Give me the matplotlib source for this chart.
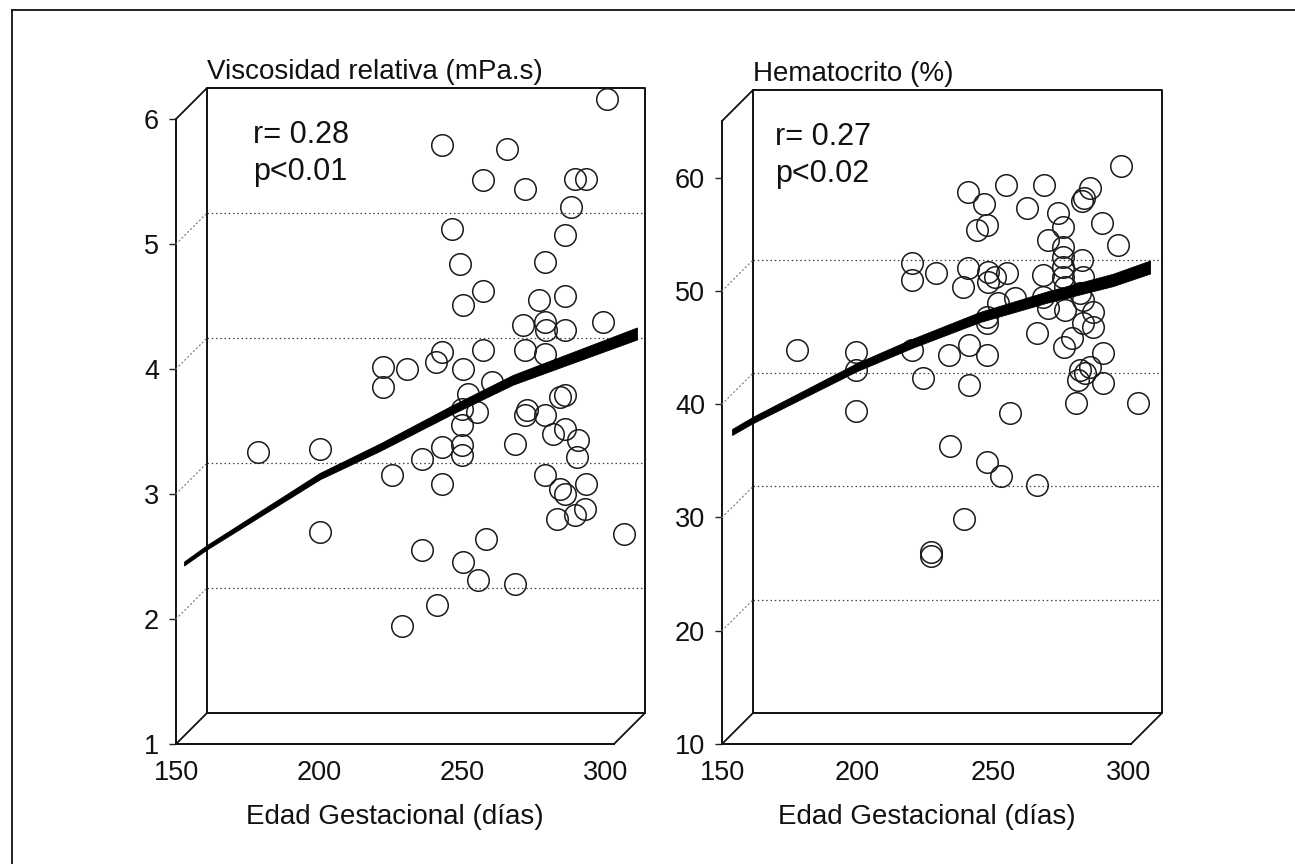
import matplotlib
matplotlib.use("Agg")
import matplotlib.pyplot as plt
import matplotlib.transforms as mtransforms
from matplotlib.lines import Line2D
import numpy as np

plt.rcParams['font.family'] = ['Liberation Sans', 'DejaVu Sans']

# ---------------- data ----------------
visc_x = [173.2, 194.9, 194.9, 216.9, 216.9, 225.3, 220.0, 230.5, 237.5, 230.5,
          235.7, 223.5, 237.5, 260.2, 295.1, 251.8, 266.5, 283.9, 287.8, 282.6,
          241.0, 280.5, 243.8, 273.5, 251.8, 244.8, 271.4, 280.5, 293.7, 265.8,
          273.5, 273.8, 280.5, 266.5, 273.5, 237.5, 235.4, 251.8, 244.8, 255.0,
          246.6, 244.5, 249.7, 244.5, 237.5, 244.5, 244.5, 263.0, 267.2, 266.5,
          273.5, 278.7, 280.5, 276.3, 280.5, 285.0, 284.6, 273.5, 278.7, 280.5,
          277.7, 283.9, 287.4, 287.8, 301.1, 252.9, 244.8, 250.1, 263.0]
visc_y = [3.21, 3.24, 2.57, 3.89, 3.73, 3.88, 3.03, 3.16, 2.96, 2.43,
          1.99, 1.82, 5.67, 5.64, 6.04, 5.39, 5.32, 5.40, 5.40, 5.17,
          5.00, 4.95, 4.72, 4.73, 4.50, 4.39, 4.43, 4.46, 4.25, 4.23,
          4.25, 4.19, 4.19, 4.03, 4.00, 4.01, 3.93, 4.03, 3.88, 3.77,
          3.68, 3.56, 3.53, 3.43, 3.25, 3.27, 3.19, 3.28, 3.55, 3.51,
          3.51, 3.65, 3.67, 3.36, 3.40, 3.31, 3.17, 3.03, 2.92, 2.88,
          2.68, 2.71, 2.76, 2.96, 2.56, 2.52, 2.33, 2.19, 2.16]
visc_fit_x = [147.4, 155.4, 194.9, 215.8, 241.0, 262.3, 285.7, 305.6]
visc_fit_y = [2.32, 2.45, 3.02, 3.25, 3.55, 3.79, 3.99, 4.16]

hto_x = [172.0, 193.7, 193.7, 193.7, 214.4, 214.4, 223.3, 214.4, 218.5, 228.1,
         235.5, 235.5, 235.1, 241.0, 238.4, 242.1, 235.1, 233.2, 242.5, 242.5,
         245.1, 249.5, 242.1, 228.4, 242.1, 247.3, 260.6, 233.6, 221.4, 221.4,
         249.1, 263.1, 280.1, 277.9, 277.2, 256.9, 268.3, 270.2, 284.6, 264.6,
         270.2, 290.5, 291.6, 262.8, 270.2, 270.2, 270.2, 277.2, 277.5, 262.8,
         270.9, 276.4, 252.4, 246.2, 242.1, 242.1, 264.6, 270.9, 277.5, 281.2,
         277.5, 281.2, 260.6, 270.5, 273.5, 284.9, 276.4, 280.1, 278.3, 275.7,
         284.9, 275.0, 297.8, 250.6]
hto_y = [43.42, 43.24, 41.65, 38.03, 51.10, 49.60, 50.21, 43.42, 40.94, 42.97,
         43.86, 40.33, 57.36, 56.31, 54.01, 54.45, 50.65, 48.98, 50.30, 49.42,
         49.86, 50.21, 42.97, 34.94, 33.53, 32.29, 31.50, 28.50, 25.58, 25.23,
         57.98, 57.98, 57.72, 56.84, 56.57, 55.95, 55.51, 54.27, 54.63, 53.13,
         52.51, 52.69, 59.66, 50.04, 51.63, 50.74, 49.86, 51.36, 49.86, 48.09,
         48.98, 48.45, 48.01, 47.57, 46.33, 45.80, 47.12, 46.95, 47.83, 46.77,
         45.80, 45.45, 44.92, 43.68, 44.48, 43.15, 41.65, 41.91, 41.39, 40.77,
         40.50, 38.74, 38.74, 37.85]
hto_fit_x = [148.0, 155.7, 194.1, 214.8, 239.5, 264.3, 288.6, 302.3]
hto_fit_y = [36.18, 37.24, 41.91, 44.03, 46.33, 48.09, 49.60, 50.74]

x_ticks = [150, 200, 250, 300]
visc_yticks = [1, 2, 3, 4, 5, 6]
hto_yticks = [10, 20, 30, 40, 50, 60]

visc_title = "Viscosidad relativa (mPa.s)"
hto_title = "Hematocrito (%)"
x_label = "Edad Gestacional (días)"
visc_stats = ["r= 0.28", "p<0.01"]
hto_stats = ["r= 0.27", "p<0.02"]

# ---------------- figure ----------------
DPI = 100
W, H = 1295, 864
fig = plt.figure(figsize=(W / DPI, H / DPI), dpi=DPI)
fig.patch.set_facecolor('white')

D = 15.5  # half of the box depth in pixels


def shift(ax, dx, dy):
    return ax.transData + mtransforms.ScaledTranslation(dx / DPI, dy / DPI, fig.dpi_scale_trans)


def connect(ax, p, t1, t2, **kw):
    ax.annotate('', xy=p, xycoords=t2, xytext=p, textcoords=t1,
                arrowprops=dict(arrowstyle='-', shrinkA=0, shrinkB=0, **kw),
                annotation_clip=False)


def panel(rect_px, xlim, ylim, yticks, xs, ys, fx, fy, title, stats, stat_dx, hw0, hw1):
    x0, x1, ytop, ybot = rect_px
    ax = fig.add_axes([x0 / W, 1 - ybot / H, (x1 - x0) / W, (ybot - ytop) / H])
    ax.set_xlim(*xlim)
    ax.set_ylim(*ylim)
    ax.axis('off')
    xa, xb = xlim
    ya, yb = ylim
    back = shift(ax, D, D)
    front = shift(ax, -D, -D)
    kw = dict(color='#111111', lw=1.4, clip_on=False, solid_capstyle='projecting')

    # back wall grid (dotted)
    for v in yticks[1:-1]:
        ax.plot([xa, xb], [v, v], transform=back, ls=(0, (1.2, 2.2)),
                color='#444444', lw=0.9, clip_on=False)
        connect(ax, (xa, v), front, back, ls=(0, (1.2, 2.5)), lw=0.8, color='#777777')

    # box
    ax.plot([xa, xb, xb, xa, xa], [ya, ya, yb, yb, ya], transform=back, **kw)
    ax.plot([xa, xa, xb], [yb, ya, ya], transform=front, **kw)
    for p in [(xa, ya), (xa, yb), (xb, ya)]:
        connect(ax, p, front, back, lw=1.3, color='#111111')

    # front y ticks and labels
    for v in yticks:
        ax.plot([xa], [v], marker=0, ms=5, mew=1.0, color='#222222',
                transform=front, clip_on=False)
        ax.text(xa, v, f"{v}", transform=shift(ax, -D - 17, -D - 3),
                ha='right', va='center', fontsize=19.5, color='#111111')
    for v in x_ticks:
        ax.text(v, ya, f"{v}", transform=shift(ax, -D, -D - 29),
                ha='center', va='center', fontsize=19.5, color='#111111')
    ax.text((xa + xb) / 2, ya, x_label, transform=shift(ax, -D, -D - 73),
            ha='center', va='center', fontsize=20, color='#111111')
    ax.text(xa, yb, title, transform=shift(ax, D, D + 16),
            ha='left', va='center', fontsize=20, color='#111111')
    ax.text(xa, yb, stats[0], transform=shift(ax, D + stat_dx, D - 55),
            ha='left', va='baseline', fontsize=22, color='#111111')
    ax.text(xa, yb, stats[1], transform=shift(ax, D + stat_dx, D - 92),
            ha='left', va='baseline', fontsize=22, color='#111111')

    # points
    ax.plot(xs, ys, 'o', mfc='none', mec='#1a1a1a', ms=15.5, mew=1.1,
            clip_on=False, zorder=3)

    # regression ribbon
    fx = np.asarray(fx)
    fy = np.asarray(fy)
    ppu = (ybot - ytop) / (yb - ya)
    hw = (hw0 + (hw1 - hw0) * (fx - fx[0]) / (fx[-1] - fx[0])) / ppu
    ax.fill_between(fx, fy - hw, fy + hw, color='black', lw=0.6,
                    clip_on=False, zorder=4)
    return ax


panel((191.5, 629.5, 103.5, 728.5), (150, 303), (1, 6), visc_yticks,
      visc_x, visc_y, visc_fit_x, visc_fit_y, visc_title, visc_stats, 46, 2.0, 6.0)
panel((737.5, 1146.5, 105.5, 728.5), (150, 301), (10, 65), hto_yticks,
      hto_x, hto_y, hto_fit_x, hto_fit_y, hto_title, hto_stats, 22, 3.0, 6.5)

# outer frame (left and top edges)
fig.add_artist(Line2D([12 / W, 12 / W], [0, 1 - 10 / H], transform=fig.transFigure,
                      color='#111111', lw=1.3))
fig.add_artist(Line2D([12 / W, 1], [1 - 10 / H, 1 - 10 / H], transform=fig.transFigure,
                      color='#111111', lw=1.3))

fig.savefig('out.png', dpi=DPI, facecolor='white')
